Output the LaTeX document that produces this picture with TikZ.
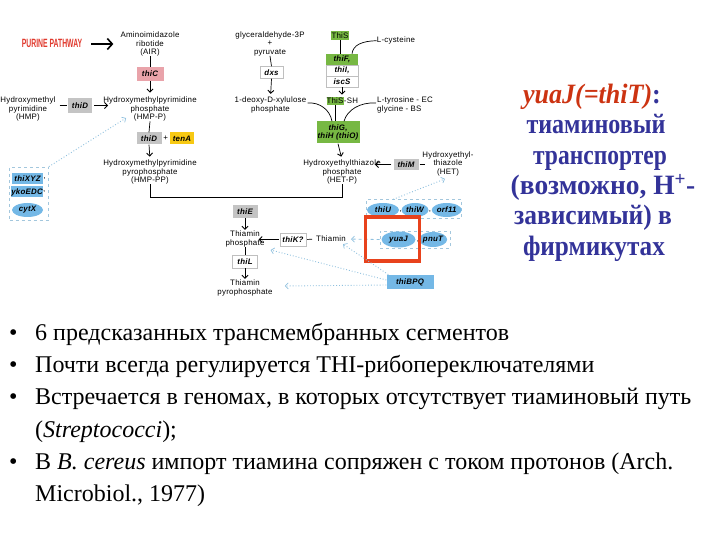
\documentclass[tikz,border=0pt]{standalone}
\usepackage{fontspec}
\setmainfont{Liberation Serif}
\newfontfamily\arial[LetterSpace=3]{Liberation Sans}
\newfontfamily\arialn{Liberation Sans}
\usetikzlibrary{arrows.meta,shapes.geometric,calc}
\definecolor{genegreen}{HTML}{77B843}
\definecolor{genegray}{HTML}{C4C4C4}
\definecolor{genepink}{HTML}{E9A3AA}
\definecolor{geneyellow}{HTML}{F7C913}
\definecolor{geneblue}{HTML}{74B8E6}
\definecolor{boxblue}{HTML}{A3C7DD}
\definecolor{dotblue}{HTML}{8FC0DE}
\definecolor{framered}{HTML}{E8421C}
\definecolor{purred}{HTML}{E03A2E}
\definecolor{navy}{HTML}{333399}
\definecolor{titlered}{HTML}{CC3311}
\begin{document}
\begin{tikzpicture}[x=1pt,y=-1pt,
  lbl/.style={font=\arial\fontsize{7.9}{8.5}\selectfont, align=center, inner sep=0pt},
  gene/.style={font=\arial\bfseries\itshape\fontsize{7.9}{8.5}\selectfont, inner sep=0pt, minimum height=13, minimum width=25},
  ggray/.style={gene, fill=genegray},
  gwhite/.style={gene, fill=white, draw=black!25, line width=0.5},
  ggreen/.style={gene, fill=genegreen},
  gblue/.style={gene, fill=geneblue},
  gell/.style={gene, ellipse, fill=geneblue, minimum height=14, minimum width=30},
  dbox/.style={draw=boxblue, dashed, line width=0.8},
  arr/.style={line width=0.7, -{Straight Barb[length=3pt,width=6pt,line width=0.9]}},
  ln/.style={line width=0.7},
  dotarr/.style={draw=dotblue, dotted, line width=0.9, -{Straight Barb[length=3pt,width=6pt,line width=0.7]}},
  dasharr/.style={draw=dotblue, dashed, line width=0.8, -{Straight Barb[length=3pt,width=6pt,line width=0.7]}},
  bul/.style={font=\fontsize{24}{26}\selectfont, anchor=base west, inner sep=0pt},
  rt/.style={font=\bfseries\fontsize{28}{30}\selectfont, text=navy, anchor=base, inner sep=0pt}
]
\useasboundingbox (0,0) rectangle (720,540);

% ---------- purine branch ----------
\node[inner sep=0pt, text=purred, font=\arialn\bfseries\fontsize{12}{12}\selectfont] (purine) at (52,43) {\scalebox{0.57}[1]{PURINE PATHWAY}};
\node[lbl] (air) at (150,44) {Aminoimidazole\\ribotide\\(AIR)};
\draw[line width=1.8, -{Straight Barb[length=5pt,width=11pt,line width=1.6]}] ($(purine.east)+(9,1)$) -- ($(air.west)+(-7,0)$);
\node[gene, fill=genepink, minimum width=27, minimum height=14] (thic) at (150,74) {thiC};
\draw[ln] (air.south) -- (thic.north);
\node[lbl] (hmpp) at (150,109) {Hydroxymethylpyrimidine\\phosphate\\(HMP-P)};
\draw[arr, shorten >=4] (thic.south) -- (hmpp.north);
\node[lbl] (hmp) at (28,109) {Hydroxymethyl\\pyrimidine\\(HMP)};
\node[ggray, minimum height=15, minimum width=24] (thid) at (80,105.5) {thiD};
\draw[ln, shorten <=4, shorten >=1] (hmp.east |- thid.west) -- (thid.west);
\draw[arr, shorten <=2, shorten >=-5] (thid.east) -- (hmpp.west |- thid.east);
\node[ggray, minimum height=12, minimum width=25] (thid2) at (149,138.5) {thiD};
\node[lbl] (plus1) at (165.7,138.5) {+};
\node[gene, fill=geneyellow, minimum height=12, minimum width=24] (tena) at (182,138.5) {tenA};
\draw[ln] (hmpp.south) -- (thid2.north);
\node[lbl] (hmppp) at (150,172) {Hydroxymethylpyrimidine\\pyrophosphate\\(HMP-PP)};
\draw[arr, shorten >=3] (thid2.south) -- (hmppp.north);

% ---------- left transporter box ----------
\node[gblue, minimum width=31, minimum height=11] (thixyz) at (27.5,179) {thiXYZ};
\node[lbl, anchor=west] (c1) at (thixyz.east) {,};
\node[gblue, minimum width=31, minimum height=11] (ykoedc) at (27,192) {ykoEDC};
\node[lbl, anchor=west] (c2) at (ykoedc.east) {,};
\node[gell, minimum width=31] (cytx) at (27.5,210) {cytX};
\node[dbox, inner sep=0pt, minimum width=39, minimum height=53] (lbox) at (29,193.5) {};
\draw[dotarr] (lbox.north east) -- ($(hmpp.west)+(23,9)$);

% ---------- DXP / thiazole branch ----------
\node[lbl] (gap) at (270,43.5) {glyceraldehyde-3P\\+\\pyruvate};
\node[gwhite, minimum width=23, minimum height=12] (dxs) at (271.5,72.5) {dxs};
\draw[ln] (gap.south) -- (dxs.north);
\node[lbl] (dxp) at (270.5,105) {1-deoxy-D-xylulose\\phosphate};
\draw[arr, shorten >=3] (dxs.south) -- (dxp.north);

\node[ggreen, minimum width=18, minimum height=9.5] (this) at (340,35.5) {\mdseries\upshape ThiS};
\node[lbl, anchor=west] (cys) at (376.7,40.7) {L-cysteine};
\node[ggreen, minimum width=32, minimum height=10.7] (thif) at (342,59.3) {thiF,};
\node[gwhite, minimum width=32, minimum height=10.7, anchor=north] (thii) at (thif.south) {thiI,};
\node[gwhite, minimum width=32, minimum height=10.7, anchor=north] (iscs) at (thii.south) {iscS};
\draw[ln] (this.south) -- (this.south |- thif.north);
\draw[ln] (cys.west) .. controls (362,41) and (353,45) .. ($(thif.north)+(10,0)$);
\node[ggreen, minimum width=17, minimum height=8.5] (thissh) at (335,101) {\mdseries\upshape ThiS};
\node[lbl, anchor=west] (sh) at (thissh.east) {-SH};
\draw[arr, shorten >=2] (iscs.south) -- (iscs.south |- thissh.north);
\node[lbl, align=left, anchor=west] (tyr) at (377,105) {L-tyrosine - EC\\glycine - BS};
\node[ggreen, minimum width=43, minimum height=22, align=center] (thig) at (338,132.5) {thiG,\\thiH (thiO)};
\draw[ln] ($(dxp.east)+(1,-2)$) .. controls (320,102) and (330,110) .. ($(thig.north)+(-6,0)$);
\draw[ln] (thissh.south) -- (thissh.south |- thig.north);
\draw[ln] ($(tyr.west)+(-1,-2)$) .. controls (360,102) and (347,110) .. ($(thig.north)+(6,0)$);
\node[lbl] (hetp) at (342,172) {Hydroxyethylthiazole\\phosphate\\(HET-P)};
\draw[arr, shorten >=3] (thig.south) -- (hetp.north);
\node[ggray, minimum width=25, minimum height=11] (thim) at (406,164.5) {thiM};
\node[lbl] (het) at (448,163.5) {Hydroxyethyl-\\thiazole\\(HET)};
\draw[arr, shorten <=2, shorten >=-6] (thim.west) -- (hetp.east |- thim.west);
\draw[ln, shorten <=1, shorten >=-3] (thim.east) -- (het.west |- thim.east);

% ---------- convergence ----------
\coordinate (junc) at (245,197.5);
\draw[ln] (hmppp.south) |- (junc) -| (hetp.south);
\node[ggray, minimum width=25, minimum height=13] (thie) at (245,211.5) {thiE};
\node[lbl] (thp) at (245,239) {Thiamin\\phosphate};
\draw[arr, shorten >=1] (thie.south) -- (thp.north);
\node[gwhite, minimum width=26, minimum height=13] (thik) at (293,239.5) {thiK?};
\node[lbl] (thiamin) at (331,239) {Thiamin};
\draw[arr, shorten <=1, shorten >=-6] (thik.west) -- (thp.east |- thik.west);
\draw[ln, shorten <=1, shorten >=4] (thik.east) -- (thiamin.west);
\node[gwhite, minimum width=25, minimum height=13] (thil) at (245,261.5) {thiL};
\draw[ln] (thp.south) -- (thil.north);
\node[lbl] (tpp) at (245,288) {Thiamin\\pyrophosphate};
\draw[arr, shorten >=1] (thil.south) -- (tpp.north);

% ---------- transporters right ----------
\node[dbox, inner sep=0pt, minimum width=95, minimum height=18.5] (ubox) at (414.2,209) {};
\node[gell, minimum width=32] (thiu) at (383,210) {thiU};
\node[lbl] (c3) at (400.5,212) {,};
\node[gell, minimum width=27] (thiw) at (415,210) {thiW};
\node[lbl] (c4) at (430,212) {,};
\node[gell, minimum width=30] (orf) at (446.7,210) {orf11};
\draw[dotarr] ($(ubox.north)+(-21,0)$) -- ($(het.south)+(-3,3)$);

\node[dbox, inner sep=0pt, minimum width=70, minimum height=17] (ybox) at (415,239.5) {};
\node[gell, minimum width=34, minimum height=16] (yuaj) at (398.5,239.5) {yuaJ};
\node[gell, minimum width=24, minimum height=15] (pnut) at (433,239.5) {pnuT};
\node[lbl] (c5) at (418,242) {,};
\draw[dasharr, shorten >=5] (ybox.west) -- (thiamin.east);
\node[draw=framered, line width=3.5, inner sep=0pt, minimum width=54, minimum height=44] (frame) at (392.3,239.2) {};

\node[gblue, minimum width=47, minimum height=14.5] (thibpq) at (410,282) {thiBPQ};
\draw[dotarr] ($(thibpq.north west)+(2,0)$) -- ($(thiamin.south)+(12,2)$);
\draw[dotarr] ($(thibpq.west)+(0,-2)$) -- ($(thp.east)+(6,11)$);
\draw[dotarr] ($(thibpq.west)+(0,3)$) -- ($(tpp.east)+(12,-2)$);

% ---------- right text ----------
\node[rt] (t1) at (592,104) {\scalebox{0.93}[1]{\textcolor{titlered}{\itshape yuaJ(=thiT)}:}};
\node[rt] (t2) at (596,134) {\scalebox{0.86}[1]{тиаминовый}};
\node[rt] (t3) at (600,164.5) {\scalebox{0.84}[1]{транспортер}};
\node[rt] (t4) at (603,194.5) {\scalebox{0.98}[1]{(возможно, H\textsuperscript{+}-}};
\node[rt] (t5) at (593,225) {\scalebox{0.91}[1]{зависимый) в}};
\node[rt] (t6) at (594,255) {\scalebox{0.9}[1]{фирмикутах}};

% ---------- bullets ----------
\node[bul] (b1d) at (9,340) {•};
\node[bul] (b1) at (35,340) {6 предсказанных трансмембранных сегментов};
\node[bul] (b2d) at (9,372) {•};
\node[bul] (b2) at (35,372) {Почти всегда регулируется THI-рибопереключателями};
\node[bul] (b3d) at (9,404.5) {•};
\node[bul] (b3) at (35,404.5) {Встречается в геномах, в которых отсутствует тиаминовый путь};
\node[bul] (b3b) at (35,437) {(\textit{Streptococci});};
\node[bul] (b4d) at (9,469) {•};
\node[bul] (b4) at (35,469) {В \textit{B. cereus} импорт тиамина сопряжен с током протонов (Arch.};
\node[bul] (b4b) at (35,501) {Microbiol., 1977)};
\end{tikzpicture}
\end{document}
